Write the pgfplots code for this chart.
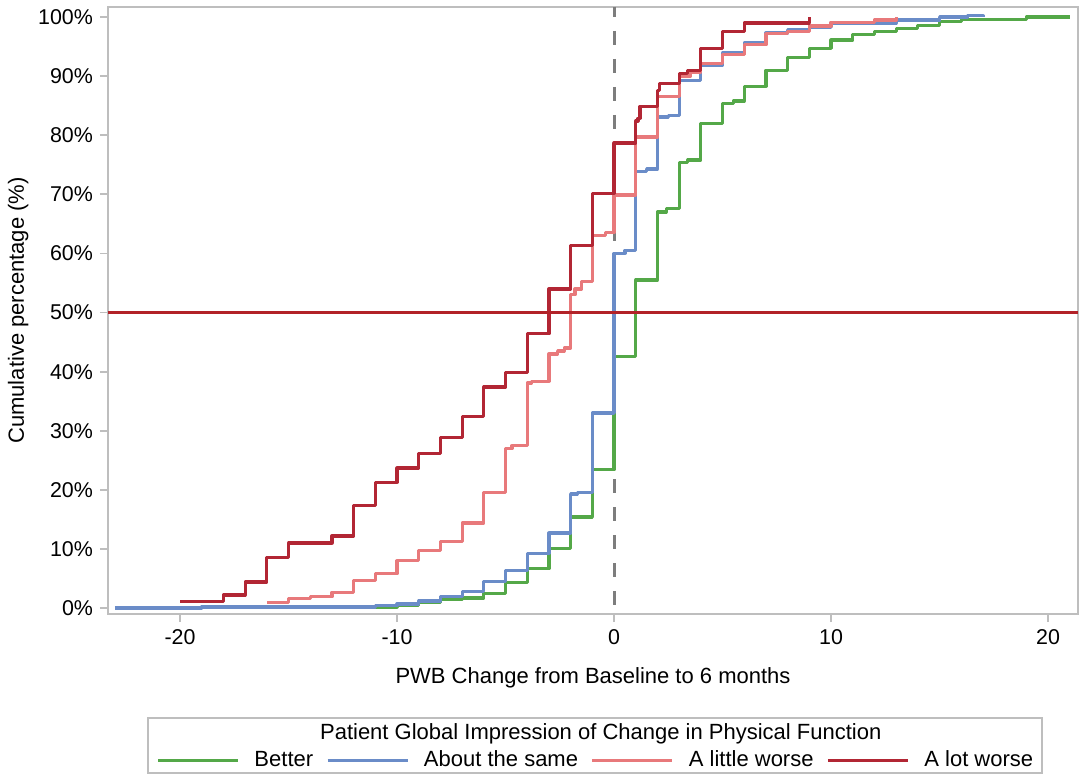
\documentclass[border=0pt]{standalone}
\usepackage{fontspec}
\setmainfont{Liberation Sans}
\usepackage{pgfplots}
\pgfplotsset{compat=1.18}
\definecolor{cgreen}{RGB}{84,168,72}
\definecolor{cblue}{RGB}{106,140,200}
\definecolor{clight}{RGB}{232,121,123}
\definecolor{cdark}{RGB}{178,38,52}
\definecolor{cref}{RGB}{178,34,40}
\definecolor{cdash}{RGB}{125,125,125}
\definecolor{cframe}{RGB}{190,190,190}
\begin{document}
\begin{tikzpicture}
\useasboundingbox (-54pt,-81pt) rectangle (486pt,307pt);
\begin{axis}[
  at={(0pt,0pt)}, anchor=south west,
  scale only axis, width=485pt, height=303.5pt,
  xmin=-23.32, xmax=21.38, ymin=-1.0, ymax=101.7,
  clip=false,
  axis line style={draw=cframe, line width=0.9pt},
  xtick={-20,-10,0,10,20}, xticklabels={-20,-10,0,10,20},
  ytick={0,10,20,30,40,50,60,70,80,90,100},
  yticklabels={0\%,10\%,20\%,30\%,40\%,50\%,60\%,70\%,80\%,90\%,100\%},
  tick align=outside, xtick pos=bottom, ytick pos=left,
  major tick length=4pt,
  tick style={draw=cframe, line width=0.9pt},
  ticklabel style={font=\fontsize{10.7}{12}\selectfont},
  label style={font=\fontsize{11}{13}\selectfont},
  xlabel={PWB Change from Baseline to 6 months},
  xlabel style={yshift=-5pt},
  ylabel={Cumulative percentage (\%)},
  ylabel style={yshift=-2pt},
  legend columns=4,
  legend style={at={(axis description cs:0.502,-0.241)}, anchor=center, draw=none, fill=none,
    font=\fontsize{11}{13}\selectfont,
    nodes={inner sep=0pt},
    /tikz/every odd column/.append style={column sep=7.5pt},
    /tikz/every even column/.append style={column sep=6.5pt}},
  legend image code/.code={\draw[#1, line width=1.4pt] (0pt,0pt) -- (40pt,0pt);},
  every axis plot/.append style={line width=1.6pt, line join=round},
]
\addplot[cdash, line width=1.5pt, dash pattern=on 7pt off 7pt, dash phase=2pt, forget plot] coordinates {(0,101.7) (0,-1)};

\addplot[cgreen, const plot] coordinates {
(-15,0.2) (-11,0.2) (-10,0.5) (-9,1.0) (-8,1.4) (-7,1.7) (-6,2.5) (-5,4.3) (-4,6.7)
(-3,10.1) (-2,15.4) (-1,23.4) (0,42.5) (1,55.5) (2,67.0) (2.4,67.6) (3,75.4) (3.4,75.8) (4,82.0)
(5,85.4) (5.5,85.8) (6,88.3) (7,91.0) (8,93.2) (9,94.7) (10,96.1) (11,97.0) (12,97.5)
(13,98.1) (14,98.6) (15,99.2) (16,99.6) (19,100) (21,100)};
\addlegendentry{Better}

\addplot[cblue, const plot] coordinates {
(-23,0.0) (-19,0.2) (-11,0.4) (-10,0.7) (-9,1.2) (-8,1.9) (-7,2.8) (-6,4.5) (-5,6.4)
(-4,9.3) (-3,12.7) (-2,19.3) (-1.7,19.6) (-1,33.0) (0,60.0) (0.5,60.5) (1,73.9) (1.5,74.3) (2,83.1) (2.5,83.4)
(3,89.3) (4,91.9) (5,93.9) (6,95.6) (7,97.3) (8,97.8) (9,98.3) (10,99.0) (13,99.5)
(15,100) (16.3,100.2) (17,100)};
\addlegendentry{About the same}

\addplot[clight, const plot] coordinates {
(-16,1.0) (-15,1.6) (-14,1.9) (-13,2.7) (-12,4.7) (-11,5.8) (-10,8.0) (-9,9.8) (-8,11.3)
(-7,14.4) (-6,19.6) (-5,27.0) (-4.7,27.5) (-4,38.1) (-3.8,38.4) (-3,43.0) (-2.6,43.5) (-2.3,44.0) (-2,53.0) (-1.8,54.0) (-1.5,55.2)
(-1,63.1) (-0.4,63.5) (0,69.9) (1,79.7) (2,86.5) (3,89.9) (3.5,90.7) (4,92.2) (5,93.6)
(6,95.3) (7,97.2) (8,97.6) (9,98.5) (10,99.1) (12,99.5) (13,100)};
\addlegendentry{A little worse}

\addplot[cdark, const plot] coordinates {
(-20,1.1) (-18,2.2) (-17,4.4) (-16,8.6) (-15,11.0) (-13,12.2) (-12,17.3) (-11,21.3)
(-10,23.7) (-9,26.2) (-8,28.8) (-7,32.4) (-6,37.4) (-5,39.9) (-4,46.4) (-3,54.0)
(-2,61.3) (-1,70.2) (0,78.7) (1,82.4) (1.1,82.9) (1.2,84.9) (2,87.6) (2.1,88.8)
(3,90.4) (3.4,91.0) (4,94.7) (5,97.6) (6,99.0) (9,100)};
\addlegendentry{A lot worse}

\addplot[cref, line width=1.6pt, forget plot] coordinates {(-23.32,50) (21.38,50)};

\draw[cframe, line width=0.8pt] (axis description cs:0.041,-0.171) rectangle (axis description cs:0.963,-0.262);
\node[font=\fontsize{11}{13}\selectfont, inner sep=0pt] at (axis description cs:0.508,-0.198) {Patient Global Impression of Change in Physical Function};
\end{axis}
\end{tikzpicture}
\end{document}
